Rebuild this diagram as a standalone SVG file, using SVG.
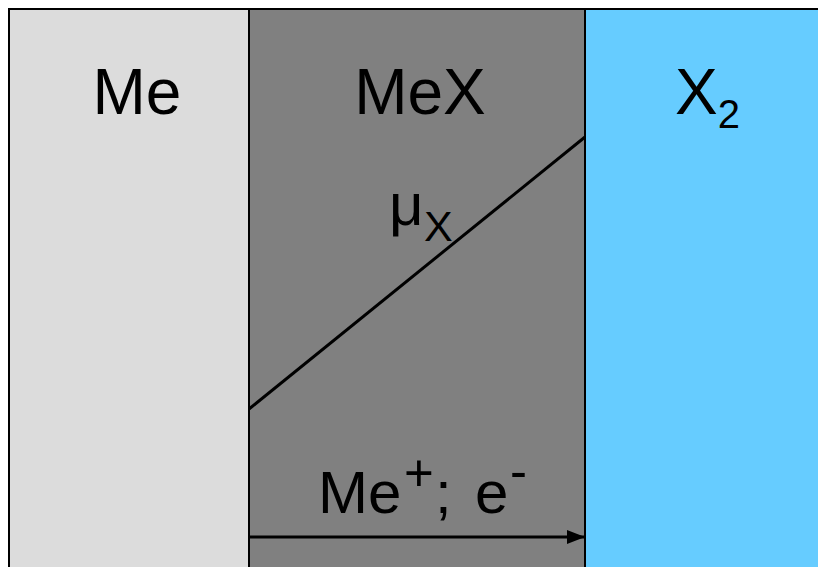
<svg xmlns="http://www.w3.org/2000/svg" width="818" height="567" viewBox="0 0 818 567">
<defs>
<style>
.t{font-family:"Liberation Sans",Arial,sans-serif;fill:#000}
.big{font-size:64px}
.reg{stroke:#000;stroke-width:2}
</style>
<marker id="ah" viewBox="0 0 10 10" refX="10" refY="5" markerWidth="18" markerHeight="14" markerUnits="userSpaceOnUse" orient="auto" preserveAspectRatio="none">
<path d="M0,0 L10,5 L0,10 z" fill="#000"/>
</marker>
</defs>
<rect width="818" height="567" fill="#fff"/>
<g id="me">
<rect class="reg" x="9" y="9" width="240" height="570" fill="#dcdcdc"/>
<text class="t big" x="137" y="114" text-anchor="middle">Me</text>
</g>
<g id="mex">
<rect class="reg" x="249" y="9" width="336" height="570" fill="#808080"/>
<text class="t big" x="420" y="114" text-anchor="middle">MeX</text>
</g>
<g id="x2">
<rect class="reg" x="585" y="9" width="240" height="570" fill="#66ccff"/>
<text class="t big" x="675" y="114">X<tspan font-size="40" dy="14">2</tspan></text>
</g>
<g id="connectors">
<line x1="249" y1="409" x2="585" y2="137" stroke="#000" stroke-width="3"/>
<line x1="249" y1="537" x2="585" y2="537" stroke="#000" stroke-width="3" marker-end="url(#ah)"/>
</g>
<text class="t" x="389" y="225" font-size="60">μ<tspan x="424" y="241" font-size="43">X</tspan></text>
<text class="t" x="318" y="513" font-size="60">Me<tspan x="404" y="491" font-size="51">+</tspan><tspan x="435" y="513">;</tspan><tspan x="475" y="513">e</tspan><tspan x="510" y="489" font-size="51">-</tspan></text>
</svg>
